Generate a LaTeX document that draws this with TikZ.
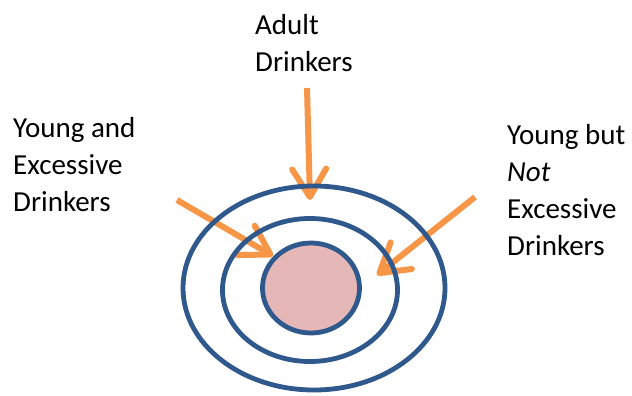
\documentclass[tikz,border=0pt]{standalone}
\usepackage{fontspec}
\setmainfont{Carlito}
\usetikzlibrary{arrows.meta,shapes.geometric}
\definecolor{arrorange}{RGB}{247,150,70}
\definecolor{ringblue}{RGB}{47,88,140}
\definecolor{corepink}{RGB}{229,184,183}
\begin{document}
\begin{tikzpicture}[x=1pt,y=-1pt,
  lbl/.style={anchor=north west,inner sep=0pt,align=left,font=\fontsize{29}{37}\selectfont,text=black},
  ring/.style={ellipse,draw=ringblue,line width=4.8pt,inner sep=0pt},
  pointer/.style={draw=arrorange,line width=6pt,-{Straight Barb[round,length=28pt,width=34pt]}}]
\useasboundingbox (0,0) rectangle (632,396);
% labels
\node[lbl] (adult) at (255,14) {Adult\\Drinkers};
\node[lbl] (yex) at (13,117) {Young and\\Excessive\\Drinkers};
\node[lbl] (ynot) at (507,124) {Young but\\\textit{Not}\\Excessive\\Drinkers};
% arrow end points
\coordinate (ta) at (307,88);
\coordinate (tb) at (310,200);
\coordinate (la) at (177,200);
\coordinate (lb) at (273,256);
\coordinate (ra) at (475,197);
\coordinate (rb) at (377,275);
\draw[pointer] (ta) -- (tb);
\draw[pointer] (la) -- (lb);
\draw[pointer] (ra) -- (rb);
% rings
\node[ring,minimum width=262pt,minimum height=204pt] (outer) at (314,288) {};
\node[ring,minimum width=175pt,minimum height=143pt] (middle) at (310,290) {};
\node[ring,fill=corepink,minimum width=97pt,minimum height=90pt] (core) at (311,288) {};
\end{tikzpicture}
\end{document}
